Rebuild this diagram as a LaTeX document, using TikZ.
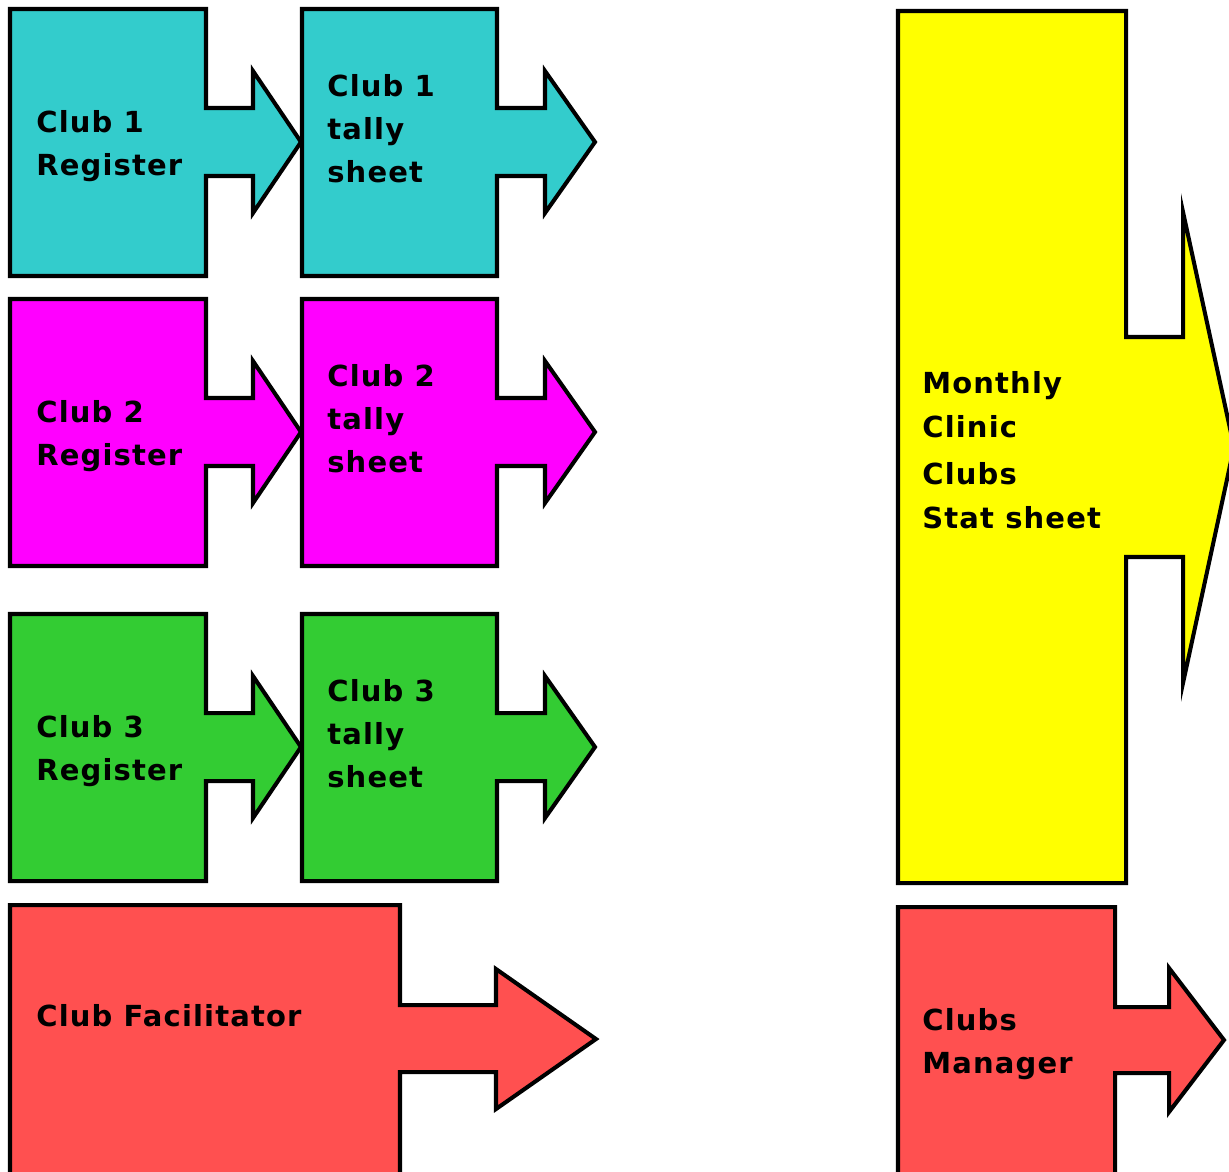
\documentclass[tikz,border=0pt]{standalone}
\usepackage{fontspec}
\newfontfamily\lblfont{DejaVu Sans}[LetterSpace=4]
\definecolor{cyanc}{HTML}{33CCCC}
\definecolor{magc}{HTML}{FF00FF}
\definecolor{grnc}{HTML}{33CC33}
\definecolor{yelc}{HTML}{FFFF00}
\definecolor{redc}{HTML}{FF5050}
\tikzset{
  abx/.style={draw=black, line width=2.3pt, line join=miter},
  lbl/.style={anchor=base west, inner sep=0pt, font=\lblfont\bfseries\fontsize{16.5}{20}\selectfont},
}
\begin{document}
\begin{tikzpicture}[x=0.02cm,y=-0.02cm]
\useasboundingbox (0,0) rectangle (1229,1171);
\clip (0,0) rectangle (1229,1171);
% rows of register / tally arrow boxes
\foreach \dy/\col in {0/cyanc,290/magc,605/grnc}{
  \begin{scope}[yshift={-0.02cm*\dy}]
  \draw[abx,fill=\col] (10,9) -- (206,9) -- (206,108) -- (253,108) -- (253,71) -- (301,142)
     -- (253,213) -- (253,176) -- (206,176) -- (206,276) -- (10,276) -- cycle;
  \draw[abx,fill=\col] (302,9) -- (497,9) -- (497,108) -- (545,108) -- (545,71) -- (595,142)
     -- (545,213) -- (545,176) -- (497,176) -- (497,276) -- (302,276) -- cycle;
  \end{scope}
}
% club facilitator
\draw[abx,fill=redc] (10,905) -- (400,905) -- (400,1005) -- (496,1005) -- (496,969) -- (596,1039)
   -- (496,1109) -- (496,1072) -- (400,1072) -- (400,1185) -- (10,1185) -- cycle;
% clubs manager
\draw[abx,fill=redc] (898,907) -- (1115,907) -- (1115,1007) -- (1169,1007) -- (1169,968) -- (1224,1040)
   -- (1169,1112) -- (1169,1073) -- (1115,1073) -- (1115,1185) -- (898,1185) -- cycle;
% monthly stat sheet
\draw[abx,fill=yelc] (898,11) -- (1126,11) -- (1126,337) -- (1183,337) -- (1183,212) -- (1234,447)
   -- (1183,683) -- (1183,557) -- (1126,557) -- (1126,883) -- (898,883) -- cycle;
% labels
\node[lbl] (r1a) at (36,132) {Club 1};
\node[lbl] (r1b) at (36,175) {Register};
\node[lbl] (t1a) at (327,96) {Club 1};
\node[lbl] (t1b) at (327,139) {tally};
\node[lbl] (t1c) at (327,182) {sheet};
\node[lbl] (r2a) at (36,422) {Club 2};
\node[lbl] (r2b) at (36,465) {Register};
\node[lbl] (t2a) at (327,386) {Club 2};
\node[lbl] (t2b) at (327,429) {tally};
\node[lbl] (t2c) at (327,472) {sheet};
\node[lbl] (r3a) at (36,737) {Club 3};
\node[lbl] (r3b) at (36,780) {Register};
\node[lbl] (t3a) at (327,701) {Club 3};
\node[lbl] (t3b) at (327,744) {tally};
\node[lbl] (t3c) at (327,787) {sheet};
\node[lbl] (m1) at (922,393) {Monthly};
\node[lbl] (m2) at (922,437) {Clinic};
\node[lbl] (m3) at (922,484) {Clubs};
\node[lbl] (m4) at (922,528) {Stat sheet};
\node[lbl] (cf) at (36,1026) {Club Facilitator};
\node[lbl] (cm1) at (922,1030) {Clubs};
\node[lbl] (cm2) at (922,1073) {Manager};
\end{tikzpicture}
\end{document}
